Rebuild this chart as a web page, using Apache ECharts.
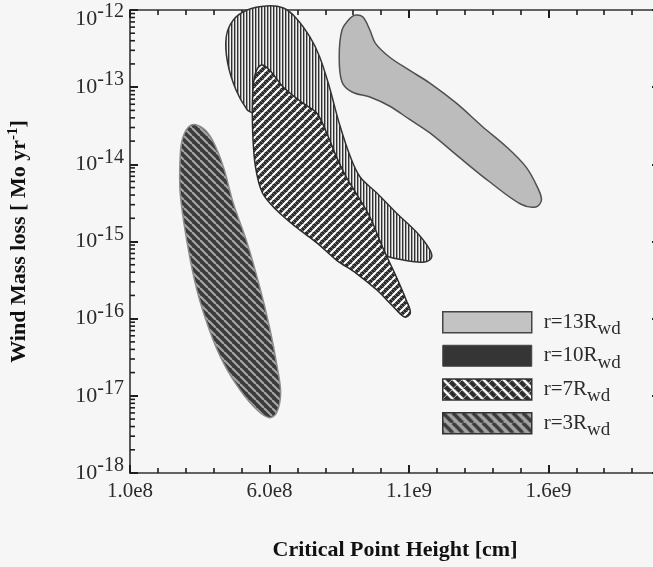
<!DOCTYPE html>
<html>
<head>
<meta charset="utf-8">
<script src="https://cdn.jsdelivr.net/npm/echarts@6.0.0/dist/echarts.min.js"></script>
<style>
  html, body { margin: 0; padding: 0; background: #f6f6f6; }
  #chart { width: 653px; height: 567px; }
</style>
</head>
<body>
<div id="chart"></div>
<script>
// outlines of the allowed regions: [critical point height (cm), wind mass loss (Mo/yr)]
var r13 = [[9.1e8, 8.6e-13], [9.35e8, 8.1e-13], [9.6e8, 5.5e-13], [9.8e8, 3.7e-13], [1.03e9, 2.46e-13],
  [1.10e9, 1.67e-13], [1.175e9, 1.13e-13], [1.27e9, 6.2e-14], [1.365e9, 3.05e-14], [1.45e9, 1.68e-14],
  [1.52e9, 9.2e-15], [1.56e9, 5.1e-15], [1.575e9, 3.45e-15], [1.555e9, 2.8e-15], [1.50e9, 3.06e-15],
  [1.39e9, 5.9e-15], [1.283e9, 1.21e-14], [1.175e9, 2.55e-14], [1.10e9, 3.87e-14], [1.03e9, 5.7e-14],
  [9.6e8, 7.45e-14], [8.96e8, 8.65e-14], [8.6e8, 1.17e-13], [8.5e8, 2.46e-13],
  [8.6e8, 5.5e-13], [8.9e8, 7.9e-13]];
var r10 = [[5.9e8, 1.13e-12], [6.5e8, 1.06e-12], [6.95e8, 7.9e-13], [7.45e8, 4.47e-13], [7.8e8, 2.46e-13],
  [8.15e8, 1.0e-13], [8.5e8, 3.4e-14], [8.9e8, 1.25e-14], [9.25e8, 6.85e-15], [9.85e8, 4.25e-15],
  [1.055e9, 2.34e-15], [1.13e9, 1.29e-15], [1.175e9, 7.8e-16], [1.18e9, 6.1e-16], [1.15e9, 5.4e-16],
  [1.08e9, 5.75e-16], [1.005e9, 6.7e-16], [9.7e8, 7.8e-16], [7.8e8, 9.2e-15], [5.4e8, 4.6e-14],
  [5.2e8, 5.1e-14], [4.8e8, 9.2e-14], [4.5e8, 2.06e-13], [4.45e8, 4.47e-13], [4.7e8, 7.4e-13], [5.2e8, 1.0e-12]];
var r7 = [[5.72e8, 1.94e-13], [6.0e8, 1.67e-13], [6.5e8, 1.0e-13], [7.2e8, 6.2e-14], [7.7e8, 4.6e-14],
  [8.05e8, 2.55e-14], [8.4e8, 1.25e-14], [8.75e8, 6.85e-15], [9.1e8, 4.25e-15], [9.6e8, 2.08e-15],
  [1.005e9, 8.5e-16], [1.055e9, 3.47e-16], [1.09e9, 1.75e-16], [1.105e9, 1.19e-16], [1.085e9, 1.05e-16],
  [1.045e9, 1.42e-16], [9.85e8, 2.35e-16], [9.1e8, 3.9e-16], [8.4e8, 5.75e-16], [7.7e8, 9.6e-16],
  [6.95e8, 1.54e-15], [6.25e8, 2.56e-15], [5.75e8, 4.25e-15], [5.5e8, 9.2e-15], [5.4e8, 2.55e-14],
  [5.4e8, 8.4e-14], [5.5e8, 1.53e-13]];
var r3 = [[3.2e8, 3.24e-14], [3.6e8, 2.96e-14], [3.95e8, 2.07e-14], [4.35e8, 9.2e-15], [4.7e8, 3.16e-15],
  [5.2e8, 9.6e-16], [5.65e8, 2.58e-16], [6.0e8, 7.8e-17], [6.25e8, 2.67e-17], [6.4e8, 1.09e-17],
  [6.25e8, 6.0e-18], [6.0e8, 5.2e-18], [5.55e8, 6.6e-18], [4.95e8, 1.19e-17], [4.35e8, 2.67e-17],
  [3.85e8, 7.1e-17], [3.4e8, 2.35e-16], [3.05e8, 9.6e-16], [2.8e8, 4.25e-15], [2.8e8, 1.25e-14], [2.9e8, 2.26e-14]];

var regionNames = ['r=13Rwd', 'r=10Rwd', 'r=7Rwd', 'r=3Rwd'];
var xMin = 1e8, xMax = 2e9, xStep = 5e8;
var yDecades = [-18, -17, -16, -15, -14, -13, -12];
var minorMantissa = [2, 3, 4, 5, 6, 7, 8, 9];

var SERIF = '"Liberation Serif", "Times New Roman", serif';
var INK = '#2b2b2b';

// small canvas tiles used as hatch fills
function tile(w, h, bg, draw) {
  var c = document.createElement('canvas');
  c.width = w; c.height = h;
  var ctx = c.getContext('2d');
  ctx.fillStyle = bg;
  ctx.fillRect(0, 0, w, h);
  draw(ctx, w, h);
  return { image: c, repeat: 'repeat' };
}
function diag(ctx, s, step, color, lw, up) {
  ctx.strokeStyle = color;
  ctx.lineWidth = lw;
  for (var o = -s; o <= s; o += step) {
    ctx.beginPath();
    if (up) { ctx.moveTo(o, s); ctx.lineTo(o + s, 0); }
    else { ctx.moveTo(o, 0); ctx.lineTo(o + s, s); }
    ctx.stroke();
  }
}

var fill10 = tile(3, 3, '#f0f0f0', function (ctx) { ctx.fillStyle = '#303030'; ctx.fillRect(0, 0, 1.4, 3); });
var fill7 = tile(8, 8, '#262626', function (ctx) {
  diag(ctx, 8, 4, '#8a8a8a', 0.8, false);
  diag(ctx, 8, 8, '#ffffff', 2.2, true);
});
var fill3 = tile(8, 8, '#3a3a3a', function (ctx) { diag(ctx, 8, 8, '#a6a6a6', 2.1, false); });
var legend7 = tile(10, 10, '#2c2c2c', function (ctx) {
  diag(ctx, 10, 10, '#bdbdbd', 1, true);
  diag(ctx, 10, 10, '#ffffff', 2.6, false);
});
var legend3 = tile(10, 10, '#a4a4a4', function (ctx) { diag(ctx, 10, 10, '#3a3a3a', 3.6, false); });

function regionSeries(name, verts, fill, stroke, lw, z) {
  var pts = verts.map(function (v) { return [v[0], Math.log10(v[1])]; });
  return {
    type: 'custom',
    name: name,
    z: z,
    silent: true,
    data: pts,
    renderItem: function (params, api) {
      if (params.dataIndex !== 0) return;
      return {
        type: 'polygon',
        shape: { points: pts.map(function (p) { return api.coord(p); }), smooth: 0.35 },
        style: { fill: fill, stroke: stroke, lineWidth: lw }
      };
    }
  };
}

// log-spaced minor ticks of the mass-loss axis
var minorY = [];
yDecades.slice(0, -1).forEach(function (n) {
  minorMantissa.forEach(function (k) { minorY.push([xMin, n + Math.log10(k)]); });
});

var chart = echarts.init(document.getElementById('chart'));

var TICK = '#1e1e1e';
function axisLine() { return { show: true, onZero: false, lineStyle: { color: '#333', width: 1.6 } }; }
function majorTick() { return { show: true, inside: true, length: 8, lineStyle: { color: TICK, width: 2 } }; }
function minorTickX() { return { show: true, splitNumber: 5, length: 5, lineStyle: { color: TICK, width: 1.6 } }; }

function xFmt(v) { return v.toExponential(1).replace('e+', 'e'); }
// the top label sits a little lower so it stays on the page
function yFmt(v) {
  return v === yDecades[yDecades.length - 1] ? '{bt|10}{st|' + v + '}' : '{b|10}{s|' + v + '}';
}

chart.setOption({
  backgroundColor: '#f6f6f6',
  animation: false,
  grid: { left: 130, top: 10, right: -7, bottom: 94, outerBoundsMode: 'none' },
  xAxis: [{
    type: 'value', position: 'bottom', min: xMin, max: xMax, interval: xStep,
    axisLine: axisLine(), axisTick: majorTick(), minorTick: minorTickX(),
    splitLine: { show: false },
    axisLabel: { formatter: xFmt, fontFamily: SERIF, fontSize: 21, color: INK, margin: 8, showMaxLabel: false },
    name: 'Critical Point Height [cm]', nameLocation: 'middle', nameGap: 66,
    nameTextStyle: { fontFamily: SERIF, fontSize: 22, fontWeight: 'bold', color: '#111' }
  }, {
    type: 'value', position: 'top', min: xMin, max: xMax, interval: xStep,
    axisLine: axisLine(), axisTick: majorTick(), minorTick: minorTickX(),
    splitLine: { show: false }, axisLabel: { show: false }
  }],
  yAxis: [{
    type: 'value', position: 'left', min: -18, max: -12, interval: 1,
    axisLine: axisLine(), axisTick: majorTick(), splitLine: { show: false },
    axisLabel: {
      margin: 6,
      formatter: yFmt,
      rich: {
        b: { fontFamily: SERIF, fontSize: 22, color: INK },
        s: { fontFamily: SERIF, fontSize: 20, color: INK, padding: [0, 0, 14, 0] },
        bt: { fontFamily: SERIF, fontSize: 22, color: INK, padding: [18, 0, 0, 0] },
        st: { fontFamily: SERIF, fontSize: 20, color: INK, padding: [4, 0, 0, 0] }
      }
    },
    name: 'Wind Mass loss [ Mo yr{s|-1}]', nameLocation: 'middle', nameGap: 97,
    nameTextStyle: {
      fontFamily: SERIF, fontSize: 22, fontWeight: 'bold', color: '#111',
      rich: { s: { fontFamily: SERIF, fontSize: 15, fontWeight: 'bold', color: '#111', padding: [0, 0, 12, 0] } }
    }
  }, {
    type: 'value', position: 'right', min: -18, max: -12, interval: 1,
    axisLine: axisLine(), axisTick: majorTick(), splitLine: { show: false }, axisLabel: { show: false }
  }],
  legend: {
    orient: 'vertical', left: 442, top: 311, padding: 0, itemGap: 6,
    itemWidth: 89, itemHeight: 21, icon: 'rect', selectedMode: false,
    data: [
      { name: regionNames[0], itemStyle: { color: '#c3c3c3', borderColor: '#444', borderWidth: 1.5 } },
      { name: regionNames[1], itemStyle: { color: '#353535', borderColor: '#444', borderWidth: 1 } },
      { name: regionNames[2], itemStyle: { color: legend7, borderColor: '#333', borderWidth: 1.5 } },
      { name: regionNames[3], itemStyle: { color: legend3, borderColor: '#333', borderWidth: 1.5 } }
    ],
    formatter: function (name) { return name.replace(/^(.*R)(wd)$/, '{m|$1}{s|$2}'); },
    textStyle: {
      rich: {
        m: { fontFamily: SERIF, fontSize: 21, color: INK, padding: [0, 0, 0, 7] },
        s: { fontFamily: SERIF, fontSize: 19, color: INK, padding: [14, 0, 0, 0] }
      }
    }
  },
  series: [
    regionSeries(regionNames[0], r13, '#bcbcbc', '#505050', 1.5, 3),
    regionSeries(regionNames[3], r3, fill3, '#8c8c8c', 1.5, 3),
    regionSeries(regionNames[1], r10, fill10, '#333', 1.5, 4),
    regionSeries(regionNames[2], r7, fill7, '#2a2a2a', 1.5, 5),
    {
      type: 'custom', name: 'minor', silent: true, z: 6, data: minorY,
      renderItem: function (params, api) {
        var p = api.coord([api.value(0), api.value(1)]);
        var cs = params.coordSys;
        var st = { stroke: TICK, lineWidth: 1.6 };
        return {
          type: 'group', children: [
            { type: 'line', shape: { x1: cs.x, y1: p[1], x2: cs.x + 5, y2: p[1] }, style: st },
            { type: 'line', shape: { x1: cs.x + cs.width - 5, y1: p[1], x2: cs.x + cs.width, y2: p[1] }, style: st }
          ]
        };
      }
    }
  ]
});
</script>
</body>
</html>
